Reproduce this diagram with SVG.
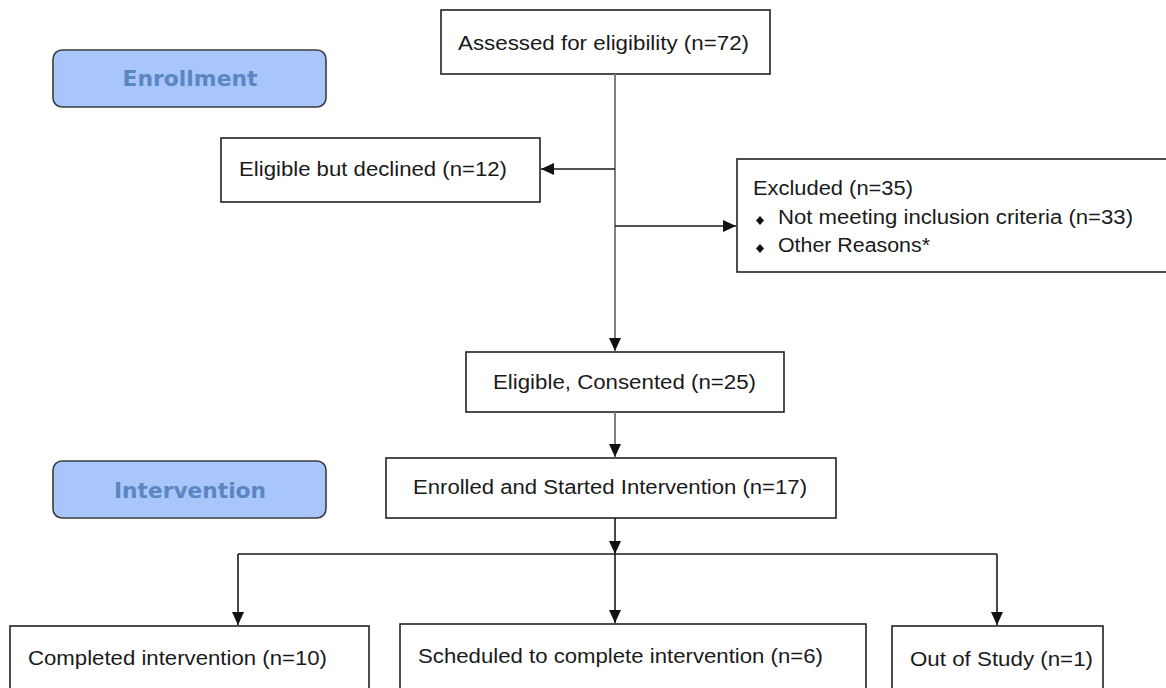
<svg xmlns="http://www.w3.org/2000/svg" width="1166" height="688" viewBox="0 0 1166 688">
<defs>
<style>
.box{fill:#fff;stroke:#222;stroke-width:1.6}
.phase{fill:#a8c6fa;stroke:#3c3c3c;stroke-width:1.6}
.t{font-family:"Liberation Sans",Arial,sans-serif;font-size:20px;fill:#1a1a1a}
.n{font-family:"Liberation Sans",Arial,sans-serif;font-size:21px;fill:#1a1a1a}
.p{font-family:"DejaVu Sans",Verdana,sans-serif;font-size:22px;font-weight:bold;fill:#5a86c2;text-anchor:middle}
.g{stroke:#7f7f7f;stroke-width:2;fill:none}
.k{stroke:#1a1a1a;stroke-width:1.6;fill:none}
</style>
<marker id="ah" markerUnits="userSpaceOnUse" markerWidth="14" markerHeight="12" refX="13" refY="6" orient="auto">
<path d="M0,0 L13,6 L0,12 Z" fill="#111"/>
</marker>
</defs>

<g id="enrollment">
<rect class="phase" x="53" y="50" width="273" height="57" rx="9"/>
<text class="p" x="190" y="86" textLength="135" lengthAdjust="spacingAndGlyphs">Enrollment</text>
</g>
<g id="intervention">
<rect class="phase" x="53" y="461" width="273" height="57" rx="9"/>
<text class="p" x="190" y="498" textLength="152" lengthAdjust="spacingAndGlyphs">Intervention</text>
</g>

<g id="assessed">
<rect class="box" x="441" y="10" width="329" height="64"/>
<text class="t" x="458" y="50" textLength="291" lengthAdjust="spacingAndGlyphs">Assessed for eligibility (n=72)</text>
</g>
<g id="declined">
<rect class="box" x="221" y="138" width="319" height="64"/>
<text class="t" x="239" y="176" textLength="268" lengthAdjust="spacingAndGlyphs">Eligible but declined (n=12)</text>
</g>
<g id="excluded">
<rect class="box" x="737" y="159" width="440" height="113"/>
<text class="t" x="753" y="195" textLength="160" lengthAdjust="spacingAndGlyphs">Excluded (n=35)</text>
<path d="M760,216 l4,4.5 l-4,4.5 l-4,-4.5 Z" fill="#111"/>
<text class="t" x="778" y="224" textLength="355" lengthAdjust="spacingAndGlyphs">Not meeting inclusion criteria (n=33)</text>
<path d="M760,244 l4,4.5 l-4,4.5 l-4,-4.5 Z" fill="#111"/>
<text class="t" x="778" y="252" textLength="152" lengthAdjust="spacingAndGlyphs">Other Reasons*</text>
</g>
<g id="consented">
<rect class="box" x="466" y="352" width="318" height="60"/>
<text class="t" x="493" y="389" textLength="263" lengthAdjust="spacingAndGlyphs">Eligible, Consented (n=25)</text>
</g>
<g id="enrolled">
<rect class="box" x="386" y="458" width="450" height="60"/>
<text class="t" x="413" y="494" textLength="394" lengthAdjust="spacingAndGlyphs">Enrolled and Started Intervention  (n=17)</text>
</g>
<g id="completed">
<rect class="box" x="10" y="626" width="359" height="80"/>
<text class="n" x="28" y="665" textLength="299" lengthAdjust="spacingAndGlyphs">Completed intervention  (n=10)</text>
</g>
<g id="scheduled">
<rect class="box" x="400" y="624" width="466" height="82"/>
<text class="n" x="418" y="663" textLength="405" lengthAdjust="spacingAndGlyphs">Scheduled to complete intervention (n=6)</text>
</g>
<g id="outofstudy">
<rect class="box" x="892" y="626" width="211" height="80"/>
<text class="n" x="910" y="666" textLength="183" lengthAdjust="spacingAndGlyphs">Out of Study (n=1)</text>
</g>

<g id="connectors">
<line class="g" x1="615" y1="74" x2="615" y2="351" marker-end="url(#ah)"/>
<line class="k" x1="615" y1="169" x2="541" y2="169" marker-end="url(#ah)"/>
<line class="k" x1="615" y1="226" x2="736" y2="226" marker-end="url(#ah)"/>
<line class="g" x1="615" y1="412" x2="615" y2="457" marker-end="url(#ah)"/>
<line class="k" x1="615" y1="518" x2="615" y2="554" marker-end="url(#ah)"/>
<polyline class="k" points="238,554 997,554"/>
<line class="k" x1="238" y1="554" x2="238" y2="625" marker-end="url(#ah)"/>
<line class="k" x1="615" y1="554" x2="615" y2="623" marker-end="url(#ah)"/>
<line class="k" x1="997" y1="554" x2="997" y2="625" marker-end="url(#ah)"/>
</g>
</svg>
